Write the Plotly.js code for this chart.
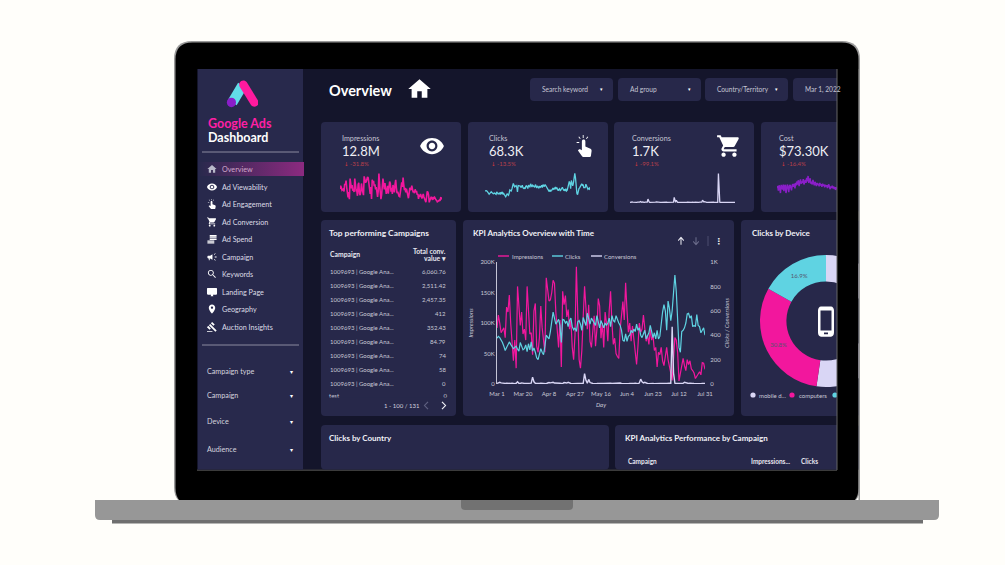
<!DOCTYPE html>
<html>
<head>
<meta charset="utf-8">
<script src="https://cdn.plot.ly/plotly-3.0.1.min.js"></script>
<style>html,body{margin:0;padding:0;background:#fffefa;overflow:hidden}</style>
</head>
<body>
<div id="chart" style="width:1005px;height:565px"></div>
<script>
// values
var impressions = [
  92,113,100,84,88,92,76,126,118,146,100,60,38,72,26,160,132,96,118,
  82,90,72,160,118,82,84,48,120,132,62,52,76,128,92,68,52,174,150,
  136,138,150,170,165,118,92,60,105,28,152,130,145,110,122,90,105,60,40,
  80,192,120,40,26,55,110,160,125,90,130,70,60,85,112,62,90,140,128,
  75,100,60,118,100,70,120,152,100,65,75,50,45,42,90,120,135,105,166,
  120,85,100,70,95,75,60,32,62,100,85,90,113,95,70,80,65,90,72,
  80,55,60,28,52,48,60,38,30,42,60,40,25,18,6,40,76,72,52,
  5,20,35,42,30,22,40,32,38,25,22,18,9,12,16,20,15,35,34,24,28
];
var clicks = [
  375,390,380,365,340,310,275,300,320,345,325,305,290,300,310,285,270,340,300,280,
  290,320,265,330,280,345,270,295,260,215,200,235,290,260,240,310,400,385,370,430,
  520,590,540,490,510,530,480,340,530,525,500,515,470,520,540,470,445,460,430,510,
  520,490,440,545,510,480,580,530,490,540,515,505,480,560,510,460,520,490,460,500,
  480,500,540,470,560,520,510,560,520,500,480,440,360,350,410,350,390,400,440,420,
  450,430,490,440,460,400,380,420,440,370,400,420,480,430,380,420,370,440,370,390,
  500,590,650,600,440,680,620,520,600,780,893,760,500,300,260,430,440,460,500,575,
  580,540,560,470,480,470,570,480,470,420,440,460,400
];
var conversions = [
  5,8,14,9,6,4,5,6,4,3,5,7,4,3,6,18,6,4,9,5,
  5,4,6,8,5,7,56,18,6,4,3,5,6,4,5,4,3,8,12,9,
  10,14,8,6,4,5,6,5,3,12,10,8,14,6,4,3,5,4,6,5,
  4,3,5,6,85,30,6,38,12,5,4,3,6,4,5,3,7,4,5,6,
  5,4,3,6,4,5,3,4,6,5,8,4,3,5,6,4,3,5,7,4,
  5,6,4,3,8,40,18,9,14,6,4,3,5,6,4,3,5,4,6,5,
  4,6,3,5,4,8,6,5,470,90,6,4,5,3,8,4,6,14,10,5,
  4,6,3,5,4,3,5,4,6,3,5,4,4
];
// only the part of the cost line that shows inside the screen
var cost = [
  430,480,360,500,440,300,510,470,390,520,350,480,510,300,470,520,450,320,480,510,
  440,370,500,530,460,540,420,560,500,600,520,630,480,590,650,540,600,560,660,520,
  580,640,560,690,600,740,560,620,680,540,590,520,640,560,500,590,530,480,560,510,
  540,470,560,500,530,460,540,490,520,450,510,470,500,430,490,520,450,400,470,430,
  490,420,470,400,450,380,430,410
];
var deviceLabels = ['mobile devices', 'computers', 'tablets'];
var deviceShare = [52.3, 30.8, 16.9];
var tickDates = ['2022-03-01','2022-03-20','2022-04-08','2022-04-27','2022-05-16','2022-06-04','2022-06-23','2022-07-12','2022-07-31'];
var impTicks = [0, 50, 100, 150, 200];
var impTickText = ['0', '50K', '100K', '150K', '200K'];
var rightTicks = [0, 200, 400, 600, 800, 1000];
var rightTickText = ['0', '200', '400', '600', '800', '1K'];
var kpiNames = ['Impressions', 'Clicks', 'Conversions', 'Cost'];
var kpiValues = ['12.8M', '68.3K', '1.7K', '$73.30K'];
var kpiDeltas = ['-31.8%', '-13.5%', '-99.1%', '-16.4%'];
var menuItems = ['Overview','Ad Viewability','Ad Engagement','Ad Conversion','Ad Spend','Campaign','Keywords','Landing Page','Geography','Auction Insights'];
var filterNames = ['Campaign type', 'Campaign', 'Device', 'Audience'];
var topCampaign = '1009693 | Google Ana...';
var convValues = ['6,060.76','2,511.42','2,457.35','412','352.43','84.79','74','58','0'];

var FONT = 'Lato, "Open Sans", sans-serif';
var PINK = '#f2179d', CYAN = '#5fd3e2', LAV = '#d9d6f5', PURPLE = '#8a1ec8';
var CARD = '#27284a', DARK = '#14152b', TXT = '#d4d4de';

var dates = [];
for (var d = 0; d < 153; d++) {
  dates.push(new Date(Date.UTC(2022, 2, 1 + d)).toISOString().slice(0, 10));
}

var W = 1005, H = 565;
function fx(a, b) { return [a / W, b / W]; }
function fy(top, bottom) { return [1 - bottom / H, 1 - top / H]; }

// shapes and labels live in a page sized axis pair, so 1 unit = 1 px
var shapes = [], notes = [], images = [];
function box(x0, y0, x1, y1, color, r, layer) {
  r = r || 0;
  var p = 'M' + (x0 + r) + ',' + y0 + ' L' + (x1 - r) + ',' + y0 + ' Q' + x1 + ',' + y0 + ' ' + x1 + ',' + (y0 + r) +
    ' L' + x1 + ',' + (y1 - r) + ' Q' + x1 + ',' + y1 + ' ' + (x1 - r) + ',' + y1 +
    ' L' + (x0 + r) + ',' + y1 + ' Q' + x0 + ',' + y1 + ' ' + x0 + ',' + (y1 - r) +
    ' L' + x0 + ',' + (y0 + r) + ' Q' + x0 + ',' + y0 + ' ' + (x0 + r) + ',' + y0 + ' Z';
  shapes.push({type: 'path', xref: 'x', yref: 'y', path: p, fillcolor: color, line: {width: 0}, layer: layer || 'below'});
}
function rule(x0, y0, x1, y1, color, w, layer) {
  shapes.push({type: 'line', xref: 'x', yref: 'y', x0: x0, y0: y0, x1: x1, y1: y1, line: {color: color, width: w || 1}, layer: layer || 'below'});
}
function dot(cx, cy, r, color) {
  shapes.push({type: 'circle', xref: 'x', yref: 'y', x0: cx - r, y0: cy - r, x1: cx + r, y1: cy + r, fillcolor: color, line: {width: 0}, layer: 'below'});
}
function label(x, y, text, size, color, opt) {
  opt = opt || {};
  notes.push({xref: 'x', yref: 'y', x: x, y: y, text: opt.bold ? '<b>' + text + '</b>' : text, showarrow: false,
    xanchor: opt.anchor || 'left', yanchor: 'middle', borderpad: 0,
    font: {family: opt.family || FONT, size: size, color: color || TXT}});
}
function icon(x, y, w, h, body, vb) {
  var svg = '<svg xmlns="http://www.w3.org/2000/svg" viewBox="' + (vb || '0 0 24 24') + '" preserveAspectRatio="none">' + body + '</svg>';
  images.push({source: 'data:image/svg+xml;utf8,' + encodeURIComponent(svg), xref: 'x', yref: 'y', x: x, y: y,
    sizex: w, sizey: h, xanchor: 'left', yanchor: 'top', sizing: 'stretch', layer: 'above'});
}
function glyph(d, color) { return '<path fill="' + (color || '#fff') + '" fill-rule="evenodd" d="' + d + '"/>'; }
function stroke(d, color, w) { return '<path fill="none" stroke="' + color + '" stroke-width="' + w + '" d="' + d + '"/>'; }

var G = {
  home: 'M10 20v-6h4v6h5v-8h3L12 3 2 12h3v8z',
  eye: 'M12 4.5C7 4.5 2.73 7.61 1 12c1.73 4.39 6 7.5 11 7.5s9.27-3.11 11-7.5c-1.73-4.39-6-7.5-11-7.5zM12 17c-2.76 0-5-2.24-5-5s2.24-5 5-5 5 2.24 5 5-2.24 5-5 5zm0-8c-1.66 0-3 1.34-3 3s1.34 3 3 3 3-1.34 3-3-1.34-3-3-3z',
  hand: 'M10 1h1v3h-1zM5 3l.8-.6 1.8 2-.8.6zM15.5 2.4l.8.6-1.8 2-.8-.6zM3 8h3v1H3zM9 7.5C9 6.1 10 5.5 11 5.5s2 .6 2 2v5l5.8 2.3c1 .4 1.4 1.2 1.3 2.2l-.8 5c-.1.6-.6 1-1.2 1h-7.6c-.4 0-.8-.2-1.1-.5L4.5 16.6l1-1c.4-.4 1-.5 1.5-.3L9 16.2z',
  cart: 'M7 18c-1.1 0-1.99.9-1.99 2S5.9 22 7 22s2-.9 2-2-.9-2-2-2zM1 2v2h2l3.6 7.59-1.35 2.45c-.16.28-.25.61-.25.96 0 1.1.9 2 2 2h12v-2H7.42c-.14 0-.25-.11-.25-.25l.03-.12.9-1.63h7.45c.75 0 1.41-.41 1.75-1.03l3.58-6.47c.08-.14.12-.31.12-.48 0-.55-.45-1-1-1H5.21l-.94-2H1zm16 16c-1.1 0-1.99.9-1.99 2s.89 2 1.99 2 2-.9 2-2-.9-2-2-2z',
  search: 'M15.5 14h-.79l-.28-.27C15.41 12.59 16 11.11 16 9.5 16 5.91 13.09 3 9.5 3S3 5.91 3 9.5 5.91 16 9.5 16c1.61 0 3.09-.59 4.23-1.57l.27.28v.79l5 4.99L20.49 19l-4.99-5zm-6 0C7.01 14 5 11.99 5 9.5S7.01 5 9.5 5 14 7.01 14 9.5 11.99 14 9.5 14z',
  pin: 'M12 2C8.13 2 5 5.13 5 9c0 5.25 7 13 7 13s7-7.75 7-13c0-3.87-3.13-7-7-7zm0 9.5c-1.38 0-2.5-1.12-2.5-2.5s1.12-2.5 2.5-2.5 2.5 1.12 2.5 2.5-1.12 2.5-2.5 2.5z',
  coins: 'M2 15h15v3H2zM2 19h15v3H2zM7 8h15v3H7zM7 12h15v2H7zM7 3h15v4H7z',
  horn: 'M18 11v2h4v-2h-4zM16 17.6c1 .7 2.2 1.6 3.2 2.4l.8-1.1c-1-.7-2.2-1.6-3.2-2.4l-.8 1.1zM20 5.1l-.8-1.1c-1 .7-2.2 1.7-3.2 2.4l.8 1.1c1-.7 2.2-1.6 3.2-2.4zM4 9c-1.1 0-2 .9-2 2v2c0 1.1.9 2 2 2h1v4h2v-4h1l5 3V6L8 9H4z',
  screen: 'M21 3H3c-1.1 0-2 .9-2 2v11c0 1.1.9 2 2 2h7l-1 3h6l-1-3h7c1.1 0 2-.9 2-2V5c0-1.1-.9-2-2-2z',
  gavel: 'M1 21h12v2H1zM5.245 8.07l2.83-2.827 14.14 14.142-2.828 2.828zM12.317 1l5.657 5.656-2.83 2.83-5.654-5.66zM3.825 9.485l5.657 5.657-2.828 2.828-5.657-5.657z',
  phone: 'M7 1h10c1.7 0 3 1.3 3 3v16c0 1.7-1.3 3-3 3H7c-1.7 0-3-1.3-3-3V4c0-1.7 1.3-3 3-3zM6.5 4v14.5h11V4zM10 20v1.2h4V20z'
};

// laptop
box(174, 41, 860, 505, '#9a9a9a', 18);
box(175.5, 42.5, 858.5, 505, '#000000', 17);
box(112, 519, 923, 523.5, '#6f6f6f');
box(95, 500, 939, 520, '#979797', 5);
box(95, 500, 939, 506, '#979797');
box(461, 500, 573, 510, '#727272', 4);
box(461, 500, 573, 504, '#727272');
rule(197, 470, 837, 470, '#777', 1);

// screen
box(197, 69, 837, 469.5, DARK);
box(198, 69, 303, 469.5, '#28294c');

// sidebar
icon(225, 79, 33, 30,
  '<path d="M8 25 L19 7" stroke="#62dbe8" stroke-width="11" fill="none"/>' +
  '<path d="M20 6 L32 25" stroke="#ff1a9e" stroke-width="9" stroke-linecap="round" fill="none"/>' +
  '<circle cx="7" cy="25" r="5" fill="#8a1ec8"/>', '0 0 36 32');
label(207, 123, 'Google Ads', 12.5, '#ff1fa5', {bold: true});
label(207, 137, 'Dashboard', 12.5, '#ffffff', {bold: true});
rule(202, 152, 299, 152, '#8b8b9f', 1);
rule(202, 345, 299, 345, '#8b8b9f', 1);
icon(198, 162, 106, 14,
  '<defs><linearGradient id="g"><stop offset="0" stop-color="#8c2a80" stop-opacity="0"/><stop offset="1" stop-color="#8c2a80"/></linearGradient></defs>' +
  '<rect width="100" height="10" fill="url(#g)"/>', '0 0 100 10');
var menuY = [169, 187, 204, 222, 239, 257, 274, 292, 309, 327];
var menuIcons = [G.home, G.eye, G.hand, G.cart, G.coins, G.horn, G.search, G.screen, G.pin, G.gavel];
menuItems.forEach(function (name, i) {
  label(221, menuY[i], name, 7.2, i === 0 ? '#d2a8cc' : '#dcdce6');
  icon(206.5, menuY[i] - 5.5, 11, 11, glyph(menuIcons[i], i === 0 ? '#b9b9c9' : '#ffffff'));
});
var filterY = [371, 395, 421, 449];
filterNames.forEach(function (name, i) {
  label(206, filterY[i], name, 7.2, '#d4d4de');
  label(291, filterY[i], '▾', 6, '#ffffff', {anchor: 'center', family: 'DejaVu Sans'});
});

// header
label(328, 90, 'Overview', 14.5, '#ffffff', {bold: true});
icon(406, 76, 27, 26, glyph(G.home));
var pickX = [[530, 613, 'Search keyword', 541, 601], [618, 701, 'Ad group', 629, 689], [705, 788, 'Country/Territory', 716, 776], [793, 845, 'Mar 1, 2022', 804, 0]];
pickX.forEach(function (p) {
  box(p[0], 78, p[1], 101, '#27284a', 4);
  label(p[3], 89, p[2], 6.6, '#c6c6d4');
  if (p[4]) { label(p[4], 89, '▾', 5, '#ffffff', {anchor: 'center', family: 'DejaVu Sans'}); }
});

// kpi cards
var cardX = [[321, 461, 341], [468, 608, 488], [614, 754, 631], [761, 860, 778]];
cardX.forEach(function (c, i) {
  box(c[0], 122, c[1], 212, CARD, 4);
  label(c[2], 138.5, kpiNames[i], 7.2, '#c6c6d4');
  label(c[2], 151, kpiValues[i], 13, '#eeeef4');
  label(c[2] + 2, 163.5, '↓', 5.5, '#d83a3a', {family: 'DejaVu Sans'});
  label(c[2] + 8, 163.5, kpiDeltas[i], 6, '#b8404a');
});
icon(419, 133, 26, 26, glyph(G.eye));
icon(574, 134, 21, 24, glyph(G.hand));
icon(716, 133, 26, 26, glyph(G.cart));

// table card
box(321, 220, 456, 416, CARD, 4);
label(328, 232.5, 'Top performing Campaigns', 8.4, '#f0f0f6', {bold: true});
label(329, 254, 'Campaign', 6.8, '#e6e6ee', {bold: true});
label(447, 250.5, 'Total conv.', 6.8, '#e6e6ee', {bold: true, anchor: 'right'});
label(447, 257.5, 'value ▾', 6.8, '#e6e6ee', {bold: true, anchor: 'right'});
var rowY = [271, 285, 299, 313, 327, 341, 355, 369, 383];
convValues.forEach(function (v, i) {
  label(329, rowY[i], topCampaign, 6, '#c9c9d6');
  label(447, rowY[i], v, 6, '#c9c9d6', {anchor: 'right'});
});
label(383, 405, '1 - 100 / 131', 6, '#d0d0dc');
icon(423, 401, 6, 9, stroke('M5 1 L1.5 5 L5 9', '#5f6080', 1.2), '0 0 6 10');
icon(441, 401, 6, 9, stroke('M1 1 L4.5 5 L1 9', '#f0f0f6', 1.2), '0 0 6 10');

// main chart card
box(463, 220, 734, 416, CARD, 4);
label(472, 232.5, 'KPI Analytics Overview with Time', 8, '#f0f0f6', {bold: true});
icon(677.5, 236.5, 7, 9, stroke('M5 10 V1 M1 5 L5 1 L9 5', '#e6e6ee', 1.5), '0 0 10 11');
icon(692.5, 236.5, 7, 9, stroke('M5 1 V10 M1 6 L5 10 L9 6', '#6a6b8a', 1.5), '0 0 10 11');
rule(708, 236, 708, 246, '#55567a', 0.8);
label(719, 241, '⋮', 8, '#f0f0f6', {anchor: 'center', family: 'DejaVu Sans', bold: true});
[[PINK, 498, 511, 'Impressions'], [CYAN, 552, 564, 'Clicks'], [LAV, 591, 603, 'Conversions']].forEach(function (k) {
  rule(k[1], 256, k[1] + 11, 256, k[0], 1.4);
  label(k[2], 256, k[3], 6, '#c9c9d6');
});

// device card
box(741, 220, 860, 416, CARD, 4);
label(751, 232.5, 'Clicks by Device', 8, '#f0f0f6', {bold: true});
dot(753, 395, 2.6, LAV);
label(758, 395, 'mobile d...', 6, '#c9c9d6');
dot(792, 395, 2.6, PINK);
label(798, 395, 'computers', 6, '#c9c9d6');
dot(835, 395, 2.6, CYAN);
icon(814, 305, 24, 33, glyph(G.phone));

// lower cards
box(321, 425, 609, 469.5, CARD, 4);
box(615, 425, 860, 469.5, CARD, 4);
label(328, 438, 'Clicks by Country', 8, '#f0f0f6', {bold: true});
label(624, 438, 'KPI Analytics Performance by Campaign', 8, '#f0f0f6', {bold: true});
label(627, 461.5, 'Campaign', 6.5, '#e6e6ee', {bold: true});
label(750, 461.5, 'Impressions...', 6.5, '#e6e6ee', {bold: true});
label(800, 461.5, 'Clicks', 6.5, '#e6e6ee', {bold: true});

// the screen edge cuts the page on the right, and the table scroll box cuts the last row
box(837, 69, 858.5, 470, '#000000', 0, 'above');
box(858.5, 69, 860, 500, '#9a9a9a', 0, 'above');
box(860, 69, 900, 500, '#fffefa', 0, 'above');
rule(837, 69, 837, 470, '#666', 1, 'above');
box(325, 397.5, 452, 400, CARD, 0, 'above');

function spark(xName, yName, ys, color, width) {
  return {x: dates, y: ys, xaxis: xName, yaxis: yName, type: 'scatter', mode: 'lines', hoverinfo: 'skip',
    line: {color: color, width: width || 1.3}, showlegend: false};
}
var hiddenAxis = {visible: false, fixedrange: true};
function sparkX(a, b) {
  return Object.assign({}, hiddenAxis, {domain: fx(a, b), type: 'date', range: ['2022-03-01', '2022-07-31']});
}
function sparkY(a, b, anchor) {
  return Object.assign({}, hiddenAxis, {domain: fy(a, b), anchor: anchor});
}

var tickFont = {family: FONT, size: 6, color: '#c9c9d6'};
var axisTitleFont = {family: FONT, size: 6, color: '#c9c9d6', style: 'italic'};
var NOINK = 'rgba(0,0,0,0)';

var traces = [
  // clipped last row of the table, in page pixels
  {x: [329, 447], y: [396.5, 396.5], xaxis: 'x', yaxis: 'y', type: 'scatter', mode: 'text', text: ['test', '0'],
    textposition: ['middle right', 'middle left'], textfont: {family: FONT, size: 6, color: '#c9c9d6'},
    hoverinfo: 'skip', showlegend: false},
  {x: dates, y: impressions, xaxis: 'x2', yaxis: 'y2', name: 'Impressions', type: 'scatter', mode: 'lines', line: {color: PINK, width: 1.2}, showlegend: false},
  {x: dates, y: clicks, xaxis: 'x2', yaxis: 'y3', name: 'Clicks', type: 'scatter', mode: 'lines', line: {color: CYAN, width: 1.2}, showlegend: false},
  {x: dates, y: conversions, xaxis: 'x2', yaxis: 'y3', name: 'Conversions', type: 'scatter', mode: 'lines', line: {color: LAV, width: 1.4}, showlegend: false},
  spark('x3', 'y4', impressions, PINK, 1.6),
  spark('x4', 'y5', clicks, CYAN),
  spark('x5', 'y6', conversions, LAV),
  spark('x6', 'y7', cost, PURPLE, 1.5),
  {type: 'pie', labels: deviceLabels, values: deviceShare, hole: 0.6, sort: false, direction: 'clockwise', rotation: 0,
    marker: {colors: [LAV, PINK, CYAN], line: {width: 0}}, textinfo: 'percent', texttemplate: '%{percent:.1%}',
    textposition: 'inside', insidetextorientation: 'horizontal',
    textfont: {family: FONT, size: 6, color: '#55566e'}, showlegend: false,
    domain: {x: fx(760, 892), y: fy(255, 387)}}
];

var layout = {
  width: W, height: H,
  margin: {l: 0, r: 0, t: 0, b: 0},
  paper_bgcolor: '#fffefa', plot_bgcolor: 'rgba(0,0,0,0)',
  font: {family: FONT},
  showlegend: false,
  xaxis: Object.assign({}, hiddenAxis, {domain: [0, 1], range: [0, W]}),
  yaxis: Object.assign({}, hiddenAxis, {domain: [0, 1], range: [H, 0]}),
  xaxis2: {domain: fx(497, 705), type: 'date', anchor: 'y2', range: ['2022-03-01', '2022-07-31'], tickmode: 'array', tickvals: tickDates,
    tickformat: '%b %-d', tickfont: tickFont, showgrid: false, zeroline: false, showline: false,
    ticks: 'outside', ticklen: 4, tickcolor: NOINK, fixedrange: true,
    title: {text: 'Day', font: axisTitleFont, standoff: 6}},
  yaxis2: {domain: fy(262, 384), anchor: 'x2', range: [0, 200], tickmode: 'array', tickvals: impTicks, ticktext: impTickText,
    tickfont: tickFont, showgrid: false, zeroline: false, showline: true, linecolor: '#c4c4d6', linewidth: 1, ticks: '', fixedrange: true,
    title: {text: 'Impressions', font: axisTitleFont, standoff: 6}},
  yaxis3: {domain: fy(262, 384), anchor: 'x2', overlaying: 'y2', side: 'right', range: [0, 1000], tickmode: 'array', tickvals: rightTicks, ticktext: rightTickText,
    tickfont: tickFont, showgrid: false, zeroline: false, showline: false, ticks: 'outside', ticklen: 3, tickcolor: NOINK, fixedrange: true,
    title: {text: 'Clicks / Conversions', font: axisTitleFont, standoff: 4}},
  xaxis3: Object.assign(sparkX(340, 442), {anchor: 'y4'}),
  yaxis4: sparkY(172, 204, 'x3'),
  xaxis4: Object.assign(sparkX(485, 590), {anchor: 'y5'}),
  yaxis5: sparkY(172, 198, 'x4'),
  xaxis5: Object.assign(sparkX(630, 735), {anchor: 'y6'}),
  yaxis6: sparkY(172, 204, 'x5'),
  xaxis6: Object.assign(sparkX(777, 882), {anchor: 'y7'}),
  yaxis7: sparkY(175, 194, 'x6'),
  shapes: shapes,
  annotations: notes,
  images: images
};

Plotly.newPlot('chart', traces, layout, {displayModeBar: false, staticPlot: true});
</script>
</body>
</html>
